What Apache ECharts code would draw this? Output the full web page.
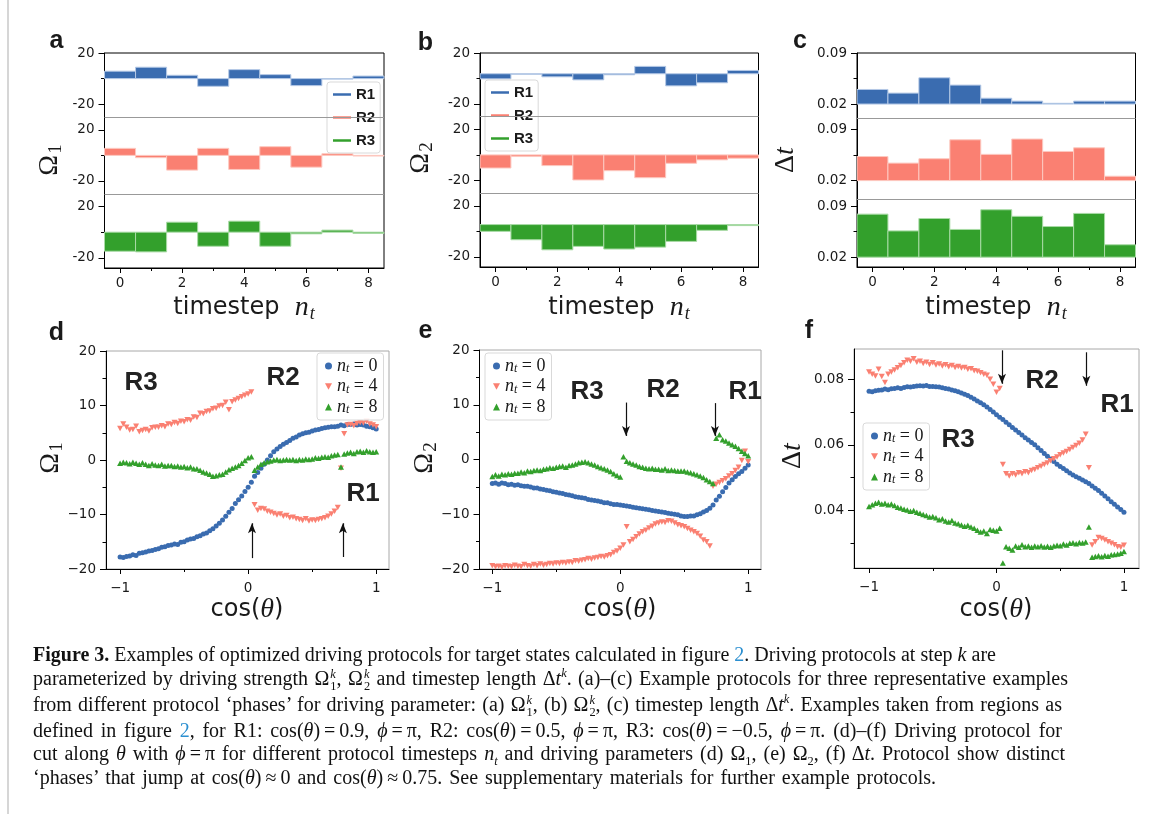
<!DOCTYPE html>
<html>
<head>
<meta charset="utf-8">
<title>Figure 3 - optimized driving protocols</title>
<script src="https://cdn.jsdelivr.net/npm/echarts@6/dist/echarts.min.js"></script>
<style>
  html, body { margin: 0; padding: 0; background: #fff; }
  #chart { position: absolute; left: 0; top: 0; width: 1167px; height: 814px; }
  .edge { position: absolute; left: 7px; top: 0; width: 2px; height: 814px; background: #d6d6d6; }
  .caption {
    position: absolute; left: 33px; top: 643px;
    font-family: 'Liberation Serif', serif; font-size: 20px; line-height: 23.7px; color: #111;
  }
  .caption div { white-space: nowrap; }
  .caption .just { text-align: justify; text-align-last: justify; white-space: normal; }
  .caption .ref { color: #2b8fd0; }
  .caption sub, .caption sup { line-height: 0; font-size: 0.62em; }
  .ss { display: inline-block; vertical-align: -0.45em; font-size: 0.62em; line-height: 1; margin-left: 1px; }
  .ss i, .ss span { display: block; }
</style>
</head>
<body>
<div id="chart"></div>
<div class="edge"></div>
<div class="caption">
  <div><b>Figure 3.</b> Examples of optimized driving protocols for target states calculated in figure <span class="ref">2</span>. Driving protocols at step <i>k</i> are</div>
  <div class="just" style="width:1035px">parameterized by driving strength Ω<span class="ss"><i>k</i><span>1</span></span>, Ω<span class="ss"><i>k</i><span>2</span></span> and timestep length Δ<i>t</i><sup><i>k</i></sup>. (a)–(c) Example protocols for three representative examples</div>
  <div class="just" style="width:1029px">from different protocol ‘phases’ for driving parameter: (a) Ω<span class="ss"><i>k</i><span>1</span></span>, (b) Ω<span class="ss"><i>k</i><span>2</span></span>, (c) timestep length Δ<i>t</i><sup><i>k</i></sup>. Examples taken from regions as</div>
  <div class="just" style="width:1029px">defined in figure <span class="ref">2</span>, for R1: cos(<i>θ</i>)&thinsp;=&thinsp;0.9, <i>ϕ</i>&thinsp;=&thinsp;π, R2: cos(<i>θ</i>)&thinsp;=&thinsp;0.5, <i>ϕ</i>&thinsp;=&thinsp;π, R3: cos(<i>θ</i>)&thinsp;=&thinsp;−0.5, <i>ϕ</i>&thinsp;=&thinsp;π. (d)–(f) Driving protocol for</div>
  <div class="just" style="width:1032px">cut along <i>θ</i> with <i>ϕ</i>&thinsp;=&thinsp;π for different protocol timesteps <i>n<sub>t</sub></i> and driving parameters (d) Ω<sub>1</sub>, (e) Ω<sub>2</sub>, (f) Δ<i>t</i>. Protocol show distinct</div>
  <div style="word-spacing:2px">‘phases’ that jump at cos(<i>θ</i>)&thinsp;≈&thinsp;0 and cos(<i>θ</i>)&thinsp;≈&thinsp;0.75. See supplementary materials for further example protocols.</div>
</div>
<script>
// ---- panels a-c: protocol value per timestep, for regions R1/R2/R3 ----
const timesteps = [0, 1, 2, 3, 4, 5, 6, 7, 8];

const omega1R1 = [5.8, 8.9, 2.6, -6.0, 7.0, 3.1, -5.5, -0.3, 2.0];
const omega1R2 = [5.5, -1.8, -11.5, 5.5, -11.0, 6.8, -9.2, 1.3, -0.5];
const omega1R3 = [-14.9, -15.4, 7.8, -11.0, 8.6, -11.0, -1.3, 1.6, -1.0];

const omega2R1 = [-0.3, 3.4, 1.3, -1.1, 2.9, 9.5, -5.8, -3.4, 6.3];
const omega2R2 = [-10.3, -1.3, -8.4, -19.7, -12.4, -17.9, -6.6, -3.9, -2.6];
const omega2R3 = [0.0, -6.6, -14.5, -11.8, -13.9, -12.4, -7.9, 0.8, 4.5];

const dtR1 = [0.040, 0.035, 0.056, 0.046, 0.028, 0.024, 0.021, 0.024, 0.024];
const dtR2 = [0.053, 0.044, 0.050, 0.076, 0.056, 0.077, 0.060, 0.065, 0.026];
const dtR3 = [0.079, 0.056, 0.073, 0.058, 0.085, 0.076, 0.062, 0.080, 0.037];

// level each step fill is drawn from (R1, R2, R3)
const omega1Base = [0, 0, 0];
const omega2Base = [3.7, 0, 5.3];
const dtBase = [0.02, 0.02, 0.02];

// ---- panels d-f: cut along theta ----
const cosTheta = [
  -1, -0.975, -0.95, -0.925, -0.9, -0.875, -0.85, -0.825, -0.8, -0.775,
  -0.75, -0.725, -0.7, -0.675, -0.65, -0.625, -0.6, -0.575, -0.55, -0.525,
  -0.5, -0.475, -0.45, -0.425, -0.4, -0.375, -0.35, -0.325, -0.3, -0.275,
  -0.25, -0.225, -0.2, -0.175, -0.15, -0.125, -0.1, -0.075, -0.05, -0.025,
  0, 0.025, 0.05, 0.075, 0.1, 0.125, 0.15, 0.175, 0.2, 0.225,
  0.25, 0.275, 0.3, 0.325, 0.35, 0.375, 0.4, 0.425, 0.45, 0.475,
  0.5, 0.525, 0.55, 0.575, 0.6, 0.625, 0.65, 0.675, 0.7, 0.725,
  0.75, 0.775, 0.8, 0.825, 0.85, 0.875, 0.9, 0.925, 0.95, 0.975, 1
];

// (d) Omega_1 for n_t = 0, 4, 8
const omega1N0 = [
  -17.8, -17.9, -17.7, -17.6, -17.4, -17.5, -17.1, -17.0, -16.9, -16.7,
  -16.6, -16.4, -16.3, -16.0, -15.9, -15.7, -15.6, -15.4, -15.5, -15.1,
  -15.0, -14.7, -14.5, -14.4, -14.1, -13.9, -13.6, -13.4, -13.0, -12.6,
  -12.1, -11.6, -11.0, -10.3, -9.6, -8.9, -8.0, -7.3, -6.6, -5.8,
  -5.0, -4.1, -3.0, -2.3, -1.5, -0.8, 0.0, 0.8, 1.5, 2.0,
  2.5, 2.9, 3.2, 3.6, 4.0, 4.2, 4.6, 4.8, 5.0, 5.1,
  5.3, 5.5, 5.6, 5.8, 5.9, 6.0, 6.1, 6.1, 6.2, 6.4,
  6.3, 6.5, 6.5, 6.6, 6.4, 6.5, 6.4, 6.2, 6.1, 5.9, 5.7
];
const omega1N4 = [
  5.8, 6.6, 6.0, 5.5, 5.6, 6.2, 5.2, 5.4, 5.6, 5.3,
  5.9, 6.0, 6.0, 6.3, 6.1, 6.6, 6.5, 6.9, 6.7, 7.1,
  7.0, 7.4, 7.3, 7.9, 7.8, 8.6, 8.5, 8.9, 9.0, 9.4,
  9.5, 9.9, 10.0, 10.6, 9.2, 10.7, 11.0, 11.3, 11.6, 11.9,
  12.1, 12.5, -8.2, -9.2, -8.9, -9.0, -9.4, -9.6, -9.8, -10.1,
  -9.9, -10.3, -10.2, -10.6, -10.5, -10.8, -10.9, -11.1, -10.8, -11.2,
  -11.0, -11.1, -10.9, -10.8, -10.6, -10.3, -9.9, -9.4, -8.7, -1.5,
  4.8, 6.4, 6.5, 6.3, 6.7, 6.9, 6.8, 7.1, 6.6, 6.4, 6.1
];
const omega1N8 = [
  -0.6, -0.4, -0.5, -0.7, -0.4, -0.6, -0.8, -0.5, -0.8, -1.0,
  -0.7, -0.9, -1.0, -0.8, -1.1, -1.0, -1.0, -1.2, -1.1, -1.3,
  -1.2, -1.4, -1.3, -1.6, -1.6, -1.9, -2.2, -2.4, -2.6, -3.0,
  -2.9, -2.7, -2.6, -2.2, -1.8, -1.5, -1.3, -1.0, -0.6, -0.1,
  0.4, 0.6, -1.9, -1.3, -0.8, -0.5, -0.3, -0.2, 0.0, 0.1,
  -0.1, 0.0, 0.1, 0.0, 0.1, -0.1, 0.1, 0.0, 0.2, 0.1,
  0.2, 0.4, 0.3, 0.5, 0.6, 0.5, 0.8, 0.9, 1.0, -1.3,
  1.1, 1.3, 1.4, 1.2, 1.5, 1.6, 1.4, 1.7, 1.5, 1.4, 1.5
];

// (e) Omega_2 for n_t = 0, 4, 8
const omega2N0 = [
  -4.4, -4.3, -4.5, -4.3, -4.4, -4.6, -4.5, -4.7, -4.6, -4.8,
  -4.9, -4.9, -5.0, -5.2, -5.2, -5.4, -5.5, -5.6, -5.7, -5.9,
  -6.0, -6.1, -6.2, -6.4, -6.5, -6.6, -6.8, -6.9, -7.0, -7.1,
  -7.3, -7.4, -7.5, -7.6, -7.7, -7.9, -7.9, -8.1, -8.2, -8.2,
  -8.3, -8.4, -8.5, -8.6, -8.7, -8.8, -8.9, -9.0, -9.1, -9.2,
  -9.3, -9.4, -9.5, -9.6, -9.7, -9.8, -9.9, -10.0, -10.1, -10.3,
  -10.4, -10.4, -10.3, -10.3, -10.1, -9.9, -9.6, -9.3, -8.9, -8.3,
  -7.4, -6.7, -5.9, -5.1, -4.3, -3.7, -3.1, -2.6, -2.2, -1.6, -1.0
];
const omega2N4 = [
  -19.4, -19.6, -19.5, -19.7, -19.4, -19.5, -19.6, -19.3, -19.5, -19.6,
  -19.2, -19.4, -19.5, -19.2, -19.4, -19.1, -19.3, -19.2, -19.0, -19.1,
  -18.9, -19.0, -18.8, -18.9, -18.7, -18.8, -18.5, -18.6, -18.4, -18.3,
  -18.1, -18.2, -18.0, -17.9, -17.7, -17.8, -17.6, -17.4, -17.0, -16.7,
  -16.2, -15.6, -12.3, -15.0, -14.6, -14.1, -13.6, -13.2, -12.9, -12.5,
  -12.2, -11.8, -11.6, -11.4, -11.5, -11.2, -11.3, -11.6, -11.9, -12.1,
  -12.3, -12.6, -12.9, -13.2, -13.5, -14.0, -14.7, -15.0, -15.8, -4.9,
  -4.5, -4.2, -3.9, -3.5, -3.0, -2.6, -2.0, -1.4, -0.2, 1.5, -0.4
];
const omega2N8 = [
  -3.1, -2.8, -3.0, -2.7, -2.8, -2.6, -2.7, -2.5, -2.5, -2.3,
  -2.4, -2.1, -2.2, -2.0, -1.9, -2.0, -1.8, -1.7, -1.5, -1.6,
  -1.4, -1.3, -1.2, -1.4, -1.1, -1.0, -0.8, -0.6, -0.5, -0.4,
  -0.6, -0.8, -1.0, -1.3, -1.5, -1.7, -1.9, -2.2, -2.6, -2.9,
  -3.2, 0.5, -0.3, -0.6, -0.8, -1.0, -1.3, -1.4, -1.6, -1.7,
  -1.6, -1.8, -1.8, -1.9, -1.7, -2.0, -1.9, -2.0, -2.1, -2.1,
  -2.1, -2.3, -2.4, -2.6, -2.8, -3.0, -3.3, -3.7, -4.0, -4.4,
  3.9, 4.5, 3.6, 3.4, 3.0, 2.7, 2.4, 2.0, 1.5, 1.1, 0.7
];

// (f) Delta t for n_t = 0, 4, 8
const dtN0 = [
  0.0763, 0.0762, 0.0765, 0.0766, 0.0767, 0.0770, 0.0768, 0.0771, 0.0772, 0.0774,
  0.0772, 0.0775, 0.0777, 0.0776, 0.0778, 0.0779, 0.0780, 0.0779, 0.0781, 0.0778,
  0.0778, 0.0777, 0.0776, 0.0774, 0.0772, 0.0770, 0.0767, 0.0765, 0.0762, 0.0758,
  0.0754, 0.0750, 0.0745, 0.0740, 0.0734, 0.0728, 0.0722, 0.0715, 0.0708, 0.0700,
  0.0692, 0.0684, 0.0677, 0.0669, 0.0661, 0.0653, 0.0645, 0.0638, 0.0630, 0.0622,
  0.0615, 0.0607, 0.0600, 0.0591, 0.0583, 0.0574, 0.0565, 0.0557, 0.0549, 0.0541,
  0.0534, 0.0528, 0.0521, 0.0514, 0.0508, 0.0503, 0.0498, 0.0493, 0.0488, 0.0482,
  0.0475, 0.0468, 0.0461, 0.0453, 0.0444, 0.0436, 0.0427, 0.0419, 0.0411, 0.0403, 0.0395
];
const dtN4 = [
  0.0822, 0.0815, 0.0810, 0.0830, 0.0808, 0.0790, 0.0815, 0.0822, 0.0828, 0.0835,
  0.0842, 0.0850, 0.0858, 0.0855, 0.0862, 0.0852, 0.0855, 0.0848, 0.0852, 0.0845,
  0.0850, 0.0843, 0.0846, 0.0840, 0.0844, 0.0838, 0.0842, 0.0836, 0.0839, 0.0834,
  0.0836, 0.0830, 0.0832, 0.0826, 0.0824, 0.0820, 0.0815, 0.0812, 0.0800, 0.0785,
  0.0760, 0.0772, 0.0540, 0.0512, 0.0505, 0.0512, 0.0508, 0.0515, 0.0512, 0.0518,
  0.0515, 0.0522, 0.0525, 0.0530, 0.0535, 0.0540, 0.0545, 0.0552, 0.0558, 0.0563,
  0.0570, 0.0575, 0.0580, 0.0586, 0.0592, 0.0598, 0.0605, 0.0615, 0.0632, 0.0530,
  0.0295, 0.0305, 0.0318, 0.0315, 0.0310, 0.0305, 0.0300, 0.0296, 0.0290, 0.0288, 0.0294
];
const dtN8 = [
  0.0412, 0.0418, 0.0422, 0.0425, 0.0420, 0.0422, 0.0418, 0.0420, 0.0415, 0.0410,
  0.0408, 0.0404, 0.0402, 0.0398, 0.0400, 0.0395, 0.0392, 0.0388, 0.0385, 0.0380,
  0.0382, 0.0378, 0.0372, 0.0375, 0.0368, 0.0365, 0.0370, 0.0362, 0.0360, 0.0356,
  0.0352, 0.0355, 0.0350, 0.0346, 0.0340, 0.0335, 0.0338, 0.0330, 0.0342, 0.0340,
  0.0338, 0.0346, 0.0240, 0.0290, 0.0285, 0.0280, 0.0292, 0.0288, 0.0296, 0.0290,
  0.0292, 0.0288, 0.0292, 0.0290, 0.0293, 0.0289, 0.0291, 0.0288, 0.0292, 0.0294,
  0.0293, 0.0298, 0.0295, 0.0300, 0.0302, 0.0299, 0.0303, 0.0301, 0.0304, 0.0350,
  0.0258, 0.0260, 0.0262, 0.0259, 0.0263, 0.0261, 0.0265, 0.0266, 0.0268, 0.0270, 0.0275
];

// ---- styling ----
const ink = '#1a1a1a';
const blue = '#3a6cb0', salmon = '#fa8072', green = '#33a02c';
const regionNames = ['R1', 'R2', 'R3'];
const stepColors = [blue, salmon, green];
const stepEdges = ['#b5c9e6', '#fdc9c1', '#a9dba6'];
const ntNames = ['nt0', 'nt4', 'nt8'];
const ntSymbols = ['circle', 'path://M0,0L10,0L5,9Z', 'triangle'];
const ntSizes = [5, [6, 5.5], [6, 5.5]];
const tickFont = { fontFamily: 'DejaVu Sans', fontSize: 13.5, color: ink };

const stepPanels = [
  { values: [omega1R1, omega1R2, omega1R3], base: omega1Base, offsets: [120, 60, 0],
    min: -28, max: 140, labels: [-20, 20, 40, 80, 100, 140], minor: [0, 60, 120],
    dividers: [30, 90], digits: 0, rect: { left: 104.5, top: 53, width: 279.5, height: 215 } },
  { values: [omega2R1, omega2R2, omega2R3], base: omega2Base, offsets: [120, 60, 0],
    min: -28, max: 140, labels: [-20, 20, 40, 80, 100, 140], minor: [0, 60, 120],
    dividers: [30, 90], digits: 0, rect: { left: 480, top: 53, width: 278.5, height: 214 } },
  { values: [dtR1, dtR2, dtR3], base: dtBase, offsets: [0.21, 0.105, 0],
    min: 0.0065, max: 0.30, labels: [0.02, 0.09, 0.125, 0.195, 0.23, 0.30], minor: [0.055, 0.16, 0.265],
    dividers: [0.105, 0.21], digits: 2, rect: { left: 857, top: 53, width: 278.5, height: 214 } }
];

const scatterPanels = [
  { values: [omega1N0, omega1N4, omega1N8], min: -20, max: 20, labels: [-20, -10, 0, 10, 20], minor: [-15, -5, 5, 15],
    digits: 0, xmin: -1.11, xmax: 1.1, rect: { left: 106, top: 351, width: 283, height: 218 },
    arrows: [[0.03, -18.0, -11.6], [0.74, -17.8, -11.6]] },
  { values: [omega2N0, omega2N4, omega2N8], min: -20, max: 20, labels: [-20, -10, 0, 10, 20], minor: [-15, -5, 5, 15],
    digits: 0, xmin: -1.1, xmax: 1.1, rect: { left: 479.5, top: 350, width: 281.5, height: 219 },
    arrows: [[0.045, 10.4, 4.3], [0.74, 10.3, 4.3]] },
  { values: [dtN0, dtN4, dtN8], min: 0.0225, max: 0.0892, labels: [0.04, 0.06, 0.08], minor: [0.03, 0.05, 0.07],
    digits: 2, xmin: -1.118, xmax: 1.118, rect: { left: 854, top: 349, width: 285, height: 219 },
    arrows: [[0.043, 0.0888, 0.0786], [0.705, 0.0882, 0.0780]] }
];

const grids = [], xAxis = [], yAxis = [], series = [];

function fmtNumber(v, digits) {
  return digits ? v.toFixed(digits) : String(Math.round(v));
}

// main axis (long ticks + labels) and a twin axis carrying the short minor ticks
function addAxes(gi, x, y) {
  xAxis.push({
    type: 'value', gridIndex: gi, min: x.min, max: x.max, position: 'bottom',
    axisLine: { show: true, onZero: false, lineStyle: { color: '#000', width: 1 } },
    axisTick: { show: true, length: 5, lineStyle: { color: '#000' }, customValues: x.ticks },
    axisLabel: { ...tickFont, margin: x.margin, customValues: x.ticks, formatter: x.fmt },
    splitLine: { show: false }
  }, {
    type: 'value', gridIndex: gi, min: x.min, max: x.max, position: 'bottom',
    axisLine: { show: false, onZero: false }, axisLabel: { show: false }, splitLine: { show: false },
    axisTick: { show: true, length: 3, lineStyle: { color: '#000' }, customValues: x.minor }
  });
  yAxis.push({
    type: 'value', gridIndex: gi, min: y.min, max: y.max, position: 'left',
    axisLine: { show: true, onZero: false, lineStyle: { color: '#000', width: 1 } },
    axisTick: { show: true, length: 6, lineStyle: { color: '#000' }, customValues: y.ticks },
    axisLabel: { ...tickFont, margin: 10, customValues: y.ticks, formatter: y.fmt },
    splitLine: { show: false }
  }, {
    type: 'value', gridIndex: gi, min: y.min, max: y.max, position: 'left',
    axisLine: { show: false, onZero: false }, axisLabel: { show: false }, splitLine: { show: false },
    axisTick: { show: true, length: 3.5, lineStyle: { color: '#000' }, customValues: y.minor }
  });
}

function stepRenderer(fill, edge) {
  return function (params, api) {
    const k = api.value(0), top = api.value(1), base = api.value(2);
    const p0 = api.coord([k - 0.5, base]);
    const p1 = api.coord([k + 0.5, top]);
    return {
      type: 'rect',
      shape: { x: p0[0], y: Math.min(p0[1], p1[1]), width: p1[0] - p0[0], height: Math.max(Math.abs(p1[1] - p0[1]), 0.5) },
      style: { fill: fill, stroke: edge, lineWidth: 1 }
    };
  };
}

stepPanels.forEach((p, gi) => {
  grids.push({ ...p.rect, show: true, borderColor: '#000', borderWidth: 1, backgroundColor: 'transparent' });
  const frameOffset = v => (v > p.dividers[1] ? p.offsets[0] : v > p.dividers[0] ? p.offsets[1] : p.offsets[2]);
  addAxes(gi,
    { min: -0.5, max: 8.5, ticks: [0, 2, 4, 6, 8], minor: [1, 3, 5, 7], margin: 8, fmt: v => String(v) },
    { min: p.min, max: p.max, ticks: p.labels, minor: p.minor, fmt: v => fmtNumber(v - frameOffset(v), p.digits) });
  p.values.forEach((vals, r) => {
    const off = p.offsets[r];
    series.push({
      type: 'custom', name: regionNames[r], xAxisIndex: 2 * gi, yAxisIndex: 2 * gi,
      clip: true, silent: true,
      itemStyle: { color: stepColors[r] },
      encode: { x: 0, y: [1, 2] },
      renderItem: stepRenderer(stepColors[r], stepEdges[r]),
      data: timesteps.map((k, i) => [k, vals[i] + off, p.base[r] + off]),
      markLine: r === 0 ? {
        silent: true, animation: false, symbol: ['none', 'none'], label: { show: false },
        lineStyle: { color: '#999', width: 1, type: 'solid' },
        data: p.dividers.map(v => ({ yAxis: v }))
      } : undefined
    });
  });
});

scatterPanels.forEach((p, j) => {
  const gi = j + 3;
  grids.push({ ...p.rect, show: true, borderColor: '#a8a8a8', borderWidth: 1, backgroundColor: 'transparent' });
  addAxes(gi,
    { min: p.xmin, max: p.xmax, ticks: [-1, 0, 1], minor: [-0.5, 0.5], margin: 12,
      fmt: v => String(v).replace('-', '\u2212') },
    { min: p.min, max: p.max, ticks: p.labels, minor: p.minor,
      fmt: v => fmtNumber(v, p.digits).replace('-', '\u2212') });
  p.values.forEach((vals, r) => {
    series.push({
      type: 'scatter', name: ntNames[r], xAxisIndex: 2 * gi, yAxisIndex: 2 * gi,
      symbol: ntSymbols[r], symbolSize: ntSizes[r], silent: true,
      itemStyle: { color: stepColors[r], opacity: 1 },
      data: cosTheta.map((c, i) => [c, vals[i]]),
      markLine: r === 0 ? {
        silent: true, animation: false, symbol: ['none', 'arrow'], symbolSize: [6, 10], label: { show: false },
        lineStyle: { color: '#111', width: 1.2, type: 'solid' },
        data: p.arrows.map(a => [{ coord: [a[0], a[1]] }, { coord: [a[0], a[2]] }])
      } : undefined
    });
  });
});

// ---- legends ----
const legendBox = {
  orient: 'vertical', selectedMode: false, backgroundColor: 'rgba(255,255,255,0.85)',
  borderColor: '#d9d9d9', borderWidth: 1, borderRadius: 3
};
const regionLegend = {
  ...legendBox, data: regionNames, icon: 'rect', itemWidth: 18, itemHeight: 2.5, itemGap: 8,
  padding: [5, 5, 5, 6],
  textStyle: { fontFamily: 'Liberation Sans', fontWeight: 'bold', fontSize: 15, color: ink }
};
const ntLegend = {
  ...legendBox,
  data: ntNames.map((n, r) => ({ name: n, icon: ntSymbols[r] })),
  itemWidth: 7, itemHeight: 7, itemGap: 2.5, padding: [4, 6, 4, 8],
  formatter: name => '{n|n}{s|t}{e| = ' + name.slice(2) + '}',
  textStyle: {
    color: ink,
    rich: {
      n: { fontFamily: 'Liberation Serif', fontStyle: 'italic', fontSize: 18, lineHeight: 18, color: ink },
      s: { fontFamily: 'Liberation Serif', fontStyle: 'italic', fontSize: 12, lineHeight: 12, padding: [6, 0, 0, 0], color: ink },
      e: { fontFamily: 'Liberation Serif', fontSize: 18, lineHeight: 18, color: ink }
    }
  }
};
const legends = [
  { ...regionLegend, left: 327, top: 82 },
  { ...regionLegend, left: 485, top: 80 },
  { ...ntLegend, left: 317, top: 353 },
  { ...ntLegend, left: 485, top: 353 },
  { ...ntLegend, left: 863, top: 423 }
];

// ---- text: panel letters, axis titles, region labels ----
const mathRich = {
  g: { fontFamily: 'Liberation Serif', fontSize: 28, fill: ink, color: ink },
  i: { fontFamily: 'Liberation Serif', fontStyle: 'italic', fontSize: 28, fill: ink, color: ink },
  s: { fontFamily: 'Liberation Serif', fontSize: 19, fill: ink, color: ink, padding: [12, 0, 0, 1] },
  si: { fontFamily: 'Liberation Serif', fontStyle: 'italic', fontSize: 18, fill: ink, color: ink, padding: [12, 0, 0, 1] },
  w: { fontFamily: 'DejaVu Sans', fontSize: 24, fill: ink, color: ink }
};
const omega1Title = '{g|Ω}{s|1}', omega2Title = '{g|Ω}{s|2}', dtTitle = '{g|Δ}{i|t}';
const stepTitle = '{w|timestep  }{i|n}{si|t}', cosTitle = '{w|cos(}{i|θ}{w|)}';

const titles = [
  [50, 160, omega1Title, true], [421, 158, omega2Title, true], [786, 160, dtTitle, true],
  [244, 308, stepTitle, false], [619, 308, stepTitle, false], [996, 308, stepTitle, false],
  [51, 458, omega1Title, true], [425, 458, omega2Title, true], [793, 456, dtTitle, true],
  [247, 610, cosTitle, false], [620, 610, cosTitle, false], [996, 610, cosTitle, false]
];
const letters = [['a', 56.5, 41.5], ['b', 425.5, 43.5], ['c', 800, 41.5],
                 ['d', 56.5, 333.5], ['e', 425.5, 331.5], ['f', 809, 331.5]];
const regionTags = [['R3', 141, 383], ['R2', 283, 378], ['R1', 363, 494],
                    ['R3', 587, 392], ['R2', 663, 390], ['R1', 745, 392],
                    ['R2', 1042, 381], ['R1', 1117, 405], ['R3', 958, 440]];

const graphic = [];
titles.forEach(t => graphic.push({
  type: 'text', x: t[0], y: t[1], rotation: t[3] ? Math.PI / 2 : 0, z: 50,
  style: { text: t[2], rich: mathRich, align: 'center', verticalAlign: 'middle', fill: ink }
}));
letters.forEach(l => graphic.push({
  type: 'text', x: l[1], y: l[2], z: 50,
  style: { text: l[0], fontFamily: 'Liberation Sans', fontWeight: 'bold', fontSize: 25, fill: ink, align: 'center', verticalAlign: 'middle' }
}));
regionTags.forEach(l => graphic.push({
  type: 'text', x: l[1], y: l[2], z: 50,
  style: { text: l[0], fontFamily: 'Liberation Sans', fontWeight: 'bold', fontSize: 26, fill: '#222', align: 'center', verticalAlign: 'middle' }
}));

const chart = echarts.init(document.getElementById('chart'));
chart.setOption({
  animation: false,
  backgroundColor: 'transparent',
  grid: grids,
  xAxis: xAxis,
  yAxis: yAxis,
  legend: legends,
  series: series,
  graphic: graphic
});
</script>
</body>
</html>
